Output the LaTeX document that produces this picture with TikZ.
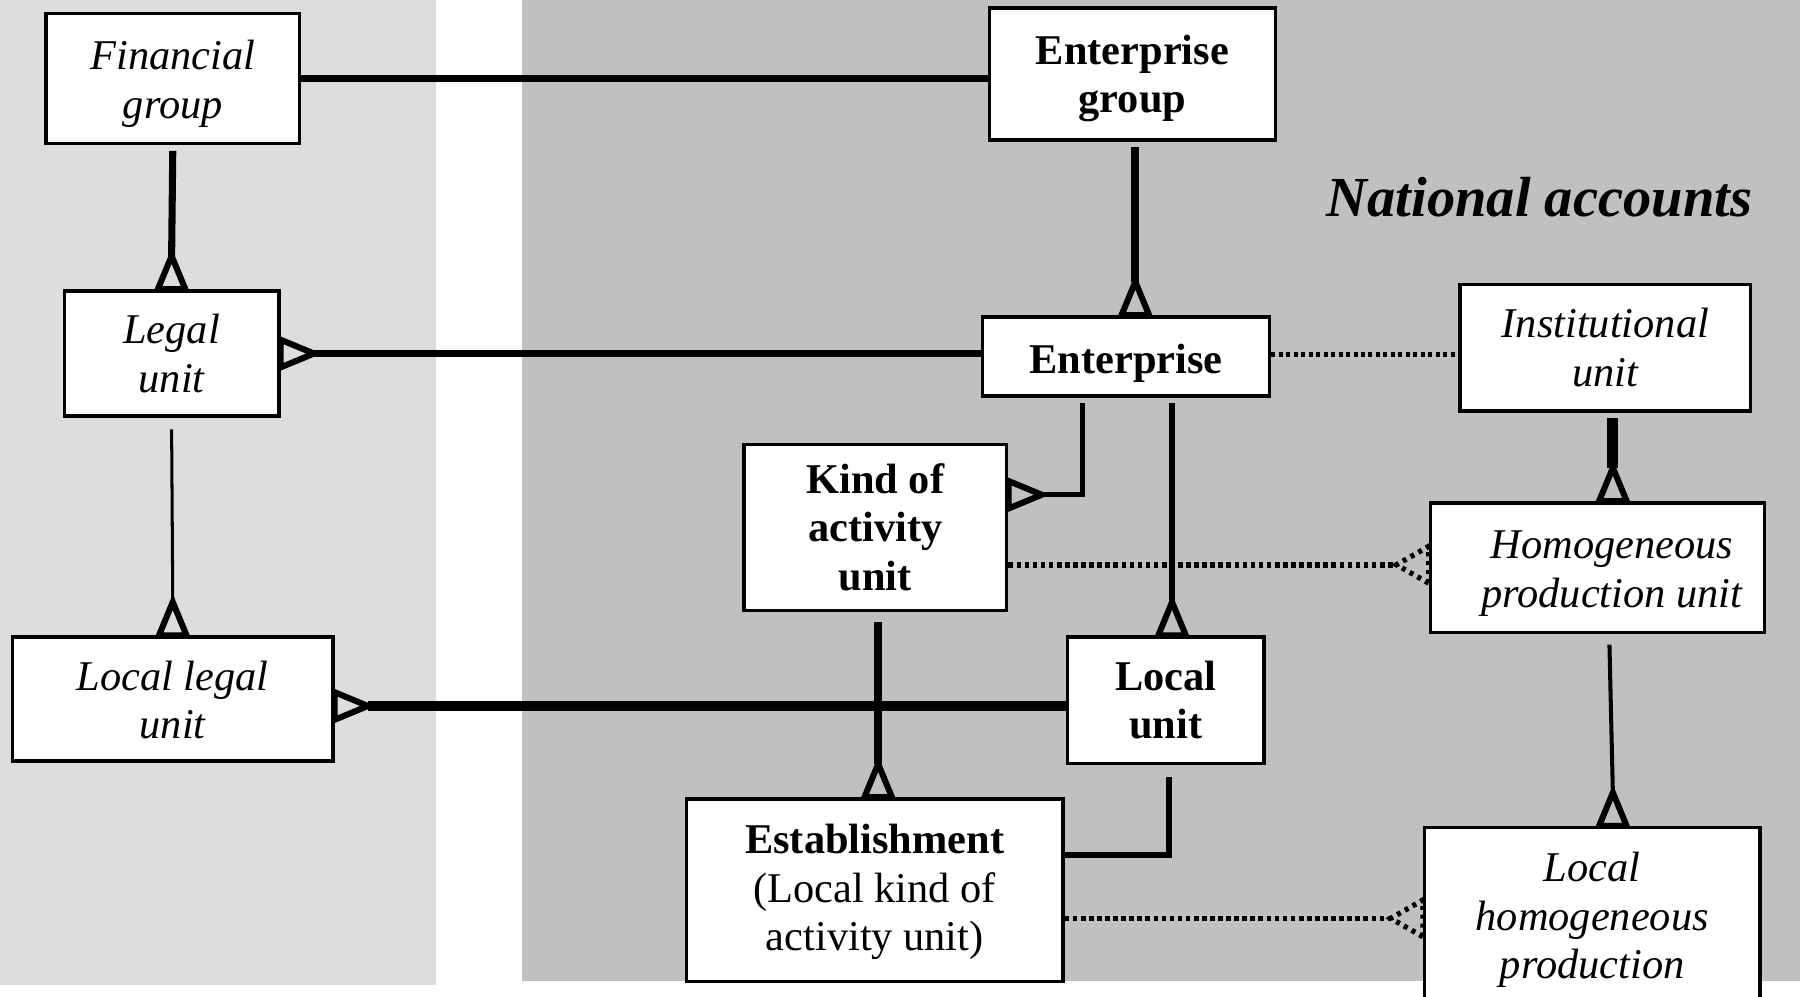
\documentclass[tikz,border=0pt]{standalone}
\usepackage{fontspec}
\setmainfont{Liberation Serif}
\usetikzlibrary{calc}
\definecolor{lgray}{HTML}{DDDDDD}
\definecolor{dgray}{HTML}{C0C0C0}
\newcommand\dnx[3][0pt]{\raisebox{-#2}[\height][\depth]{\hspace*{#1}\begin{tabular}{@{}c@{}}#3\end{tabular}\hspace*{-#1}}}
\newcommand\dn[2][0pt]{\dnx[#1]{1.15pt}{#2}}
\begin{document}
\begin{tikzpicture}[x=0.01cm,y=-0.01cm,
  box/.style={draw,line width=0.85pt,fill=white,align=center,inner sep=0pt},
  sz/.style 2 args={minimum width=#1*0.01cm,minimum height=#2*0.01cm},
  sbr/.style={box,font=\fontsize{10.5}{12}\selectfont\bfseries},
  nat/.style={box,font=\fontsize{10.5}{12}\selectfont\itshape},
  plain/.style={box,font=\fontsize{10.5}{12}\selectfont},
  lA/.style={line width=0.75pt},
  lB/.style={line width=1pt},
  lC/.style={line width=1.3pt},
  lC2/.style={line width=1.5pt},
  lD/.style={line width=1.75pt},
  lE/.style={line width=2pt},
  lF/.style={line width=2.7pt},
  dotA/.style={line width=1.1pt,dash pattern=on 1pt off 0.85pt},
  dotB/.style={line width=1.35pt,dash pattern=on 1.15pt off 0.85pt},
  crow/.pic={\draw[line width=1.5pt,line join=miter] (-0.12cm,0) -- (0,0.29cm) -- (0.12cm,0) -- cycle;},
  dcrow/.pic={\draw[line width=1.3pt,dash pattern=on 1pt off 1.2pt] (-0.16cm,0) -- (0,0.28cm) -- (0.16cm,0) -- cycle;}
]
\useasboundingbox (0,0) rectangle (1568,868);
\fill[white] (0,0) rectangle (1568,868);
\fill[lgray] (0,0) rectangle (380,858);
\fill[dgray] (455,0) rectangle (1568,855);

% nodes
\node[nat,sz={221}{113}] (fg) at (150.5,68.5) {\dnx{1.4pt}{Financial\\group}};
\node[sbr,sz={249}{115}] (eg) at (986.5,64.5) {\dn{Enterprise\\group}};
\node[nat,sz={187}{109}] (lu) at (149.5,308) {\dn{Legal\\unit}};
\node[sbr,sz={250}{69}] (ent) at (981,310.5) {\dnx{1.8pt}{Enterprise}};
\node[nat,sz={253}{110}] (inst) at (1398.5,303) {\dn{Institutional\\unit}};
\node[sbr,sz={229}{145}] (kau) at (762.5,459.5) {\dn{Kind of\\activity\\unit}};
\node[nat,sz={291}{113}] (hpu) at (1391.5,494.5) {\dnx[3.6pt]{1.4pt}{Homogeneous\\production unit}};
\node[nat,sz={279}{108}] (llu) at (150.5,609) {\dnx{1.4pt}{Local legal\\unit}};
\node[sbr,sz={171}{110}] (loc) at (1015.5,610) {\dn{Local\\unit}};
\node[plain,sz={328}{159}] (est) at (762,775.5) {\dnx{0.6pt}{\textbf{Establishment}\\(Local kind of\\activity unit)}};
\node[nat,sz={292}{152}] (lhpu) at (1387,797) {\dnx{1.4pt}{Local\\homogeneous\\production}};
\node[font=\fontsize{14}{16}\selectfont\bfseries\itshape,inner sep=0pt] (title) at (1341,172) {National accounts};

% connectors
\draw[lD] (fg.east) -- (fg.east -| eg.west);
\draw[lD] ($(fg.south)+(0,5)$) -- ($(lu.north)+(0,-29)$);
\pic at (lu.north) {crow};
\draw[lA] ($(lu.south)+(0,10)$) -- ($(llu.north)+(0,-29)$);
\pic at (llu.north) {crow};
\draw[lE] ($(eg.south)+(2.5,5)$) -- ($(ent.north)+(8,-29)$);
\pic at ($(ent.north)+(8,0)$) {crow};
\draw[lD] (ent.west |- lu.east) -- ($(lu.east)+(29,0)$);
\pic[rotate=-90] at (lu.east) {crow};
\draw[dotA] ($(ent.east)+(0,-1.5)$) -- ($(ent.east -| inst.west)+(0,-1.5)$);
\draw[lC] ($(ent.south)+(-38,5)$) |- ($(kau.east)+(29,-28.5)$);
\pic[rotate=-90] at ($(kau.east)+(0,-28.5)$) {crow};
\draw[lC] ($(ent.south)+(40,5)$) -- ($(loc.north)+(5.5,-29)$);
\pic at ($(loc.north)+(5.5,0)$) {crow};
\draw[lF] ($(inst.south)+(6.5,5)$) -- ($(hpu.north)+(13.5,-29)$);
\pic at ($(hpu.north)+(13.5,0)$) {crow};
\draw[dotB] ($(kau.east)+(0,32.5)$) -- ($(hpu.west)+(-28,-2.5)$);
\pic[rotate=90] at ($(hpu.west)+(0,-2.5)$) {dcrow};
\draw[lE] ($(kau.south)+(2.5,8)$) -- ($(est.north)+(3,-29)$);
\pic at ($(est.north)+(3,0)$) {crow};
\draw[lF] ($(loc.west)+(0,5)$) -- ($(llu.east)+(29,6)$);
\pic[rotate=-90] at ($(llu.east)+(0,6)$) {crow};
\draw[lC2] ($(loc.south)+(2.5,10)$) |- ($(est.east)+(0,-30.5)$);
\draw[lB] ($(hpu.south)+(10.5,9)$) -- ($(lhpu.north)+(18,-29)$);
\pic at ($(lhpu.north)+(18,0)$) {crow};
\draw[dotB] ($(est.east)+(0,24.5)$) -- ($(lhpu.west)+(-28,3)$);
\pic[rotate=90] at ($(lhpu.west)+(0,3)$) {dcrow};
\end{tikzpicture}
\end{document}
